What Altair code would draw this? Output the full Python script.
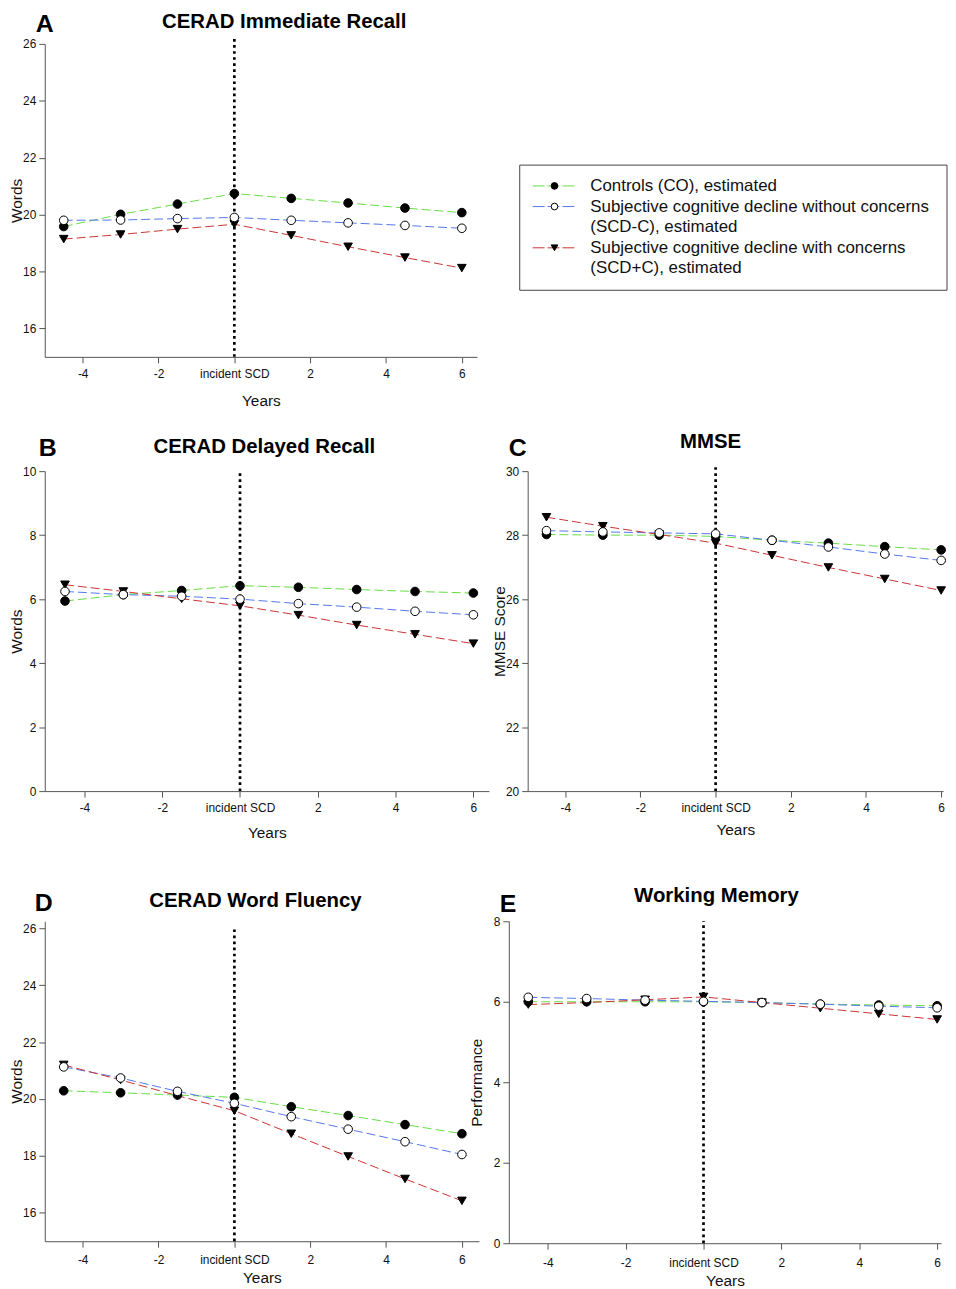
import altair as alt
import pandas as pd

# ---------------- data ----------------
years = [-4.5, -3, -1.5, 0, 1.5, 3, 4.5, 6]
groups = ["CO", "SCD-C", "SCD+C"]
line_colors = ["#66dd44", "#5577ee", "#cc3333"]
marker_shapes = ["circle", "circle", "triangle-down"]
marker_fills = ["black", "white", "black"]
x_tick_values = [-4, -2, 0, 2, 4, 6]

# A: CERAD Immediate Recall
a_co = [19.58, 20.01, 20.37, 20.74, 20.57, 20.41, 20.23, 20.07]
a_scdm = [19.80, 19.81, 19.86, 19.90, 19.80, 19.71, 19.62, 19.52]
a_scdp = [19.14, 19.30, 19.49, 19.66, 19.27, 18.87, 18.49, 18.12]
# B: CERAD Delayed Recall
b_co = [5.94, 6.14, 6.27, 6.42, 6.37, 6.30, 6.24, 6.19]
b_scdm = [6.24, 6.14, 6.09, 6.00, 5.86, 5.75, 5.62, 5.51]
b_scdp = [6.45, 6.24, 6.01, 5.79, 5.50, 5.19, 4.90, 4.61]
# C: MMSE
c_co = [28.02, 28.00, 28.00, 27.96, 27.84, 27.75, 27.64, 27.54]
c_scdm = [28.14, 28.10, 28.07, 28.04, 27.84, 27.63, 27.41, 27.21]
c_scdp = [28.56, 28.28, 28.02, 27.75, 27.37, 26.99, 26.63, 26.27]
# D: CERAD Word Fluency
d_co = [20.29, 20.22, 20.14, 20.06, 19.73, 19.42, 19.10, 18.78]
d_scdm = [21.13, 20.74, 20.27, 19.85, 19.38, 18.94, 18.50, 18.05]
d_scdp = [21.20, 20.67, 20.12, 19.59, 18.78, 17.98, 17.19, 16.42]
# E: Working Memory
e_co = [6.00, 6.00, 6.00, 6.00, 5.98, 5.94, 5.92, 5.90]
e_scdm = [6.11, 6.08, 6.04, 6.01, 5.98, 5.94, 5.89, 5.85]
e_scdp = [5.93, 5.98, 6.05, 6.12, 5.98, 5.84, 5.70, 5.56]

legend_text = [
    "Controls (CO), estimated",
    "Subjective cognitive decline without concerns",
    "(SCD-C), estimated",
    "Subjective cognitive decline with concerns",
    "(SCD+C), estimated",
]
legend_text_rows = [0, 1, 2, 3, 4]
legend_symbol_rows = [0, 1, 3]

FONT = "Liberation Sans"


def panel(letter, title, ytitle, co, scdm, scdp, ydom, yticks, xdom, w, h,
          letter_pos, title_pos, rule_top, ytitle_pad, xlab_pad, xtitle_pad):
    n = len(years)
    df = pd.DataFrame({
        "year": years * 3,
        "value": co + scdm + scdp,
        "group": [g for g in groups for _ in range(n)],
    })
    pts = pd.concat([df[df.group == "CO"], df[df.group == "SCD+C"], df[df.group == "SCD-C"]])
    x = alt.X("year:Q", scale=alt.Scale(domain=xdom, nice=False, zero=False),
              axis=alt.Axis(values=x_tick_values, grid=False, title="Years",
                            labelExpr="datum.value == 0 ? 'incident SCD' : '' + datum.value",
                            labelPadding=xlab_pad, titlePadding=xtitle_pad, labelFlush=False))
    y = alt.Y("value:Q", scale=alt.Scale(domain=ydom, nice=False, zero=False),
              axis=alt.Axis(values=yticks, grid=False, title=ytitle, titlePadding=ytitle_pad))
    color = alt.Color("group:N", scale=alt.Scale(domain=groups, range=line_colors), legend=None)

    rule_df = pd.DataFrame({"year": [0], "value": [ydom[0]], "value2": [rule_top]})
    rule = alt.Chart(rule_df).mark_rule(color="black", strokeWidth=2.7, strokeDash=[2.7, 3.4]).encode(
        x=x, y=y, y2="value2:Q")
    lines = alt.Chart(df).mark_line(strokeWidth=1, strokeDash=[9, 4]).encode(x=x, y=y, color=color)
    points = alt.Chart(pts).mark_point(size=75, stroke="black", strokeWidth=1, opacity=1,
                                       fillOpacity=1, filled=False).encode(
        x=x, y=y,
        shape=alt.Shape("group:N", scale=alt.Scale(domain=groups, range=marker_shapes), legend=None),
        fill=alt.Fill("group:N", scale=alt.Scale(domain=groups, range=marker_fills), legend=None),
    )
    lab = alt.Chart(pd.DataFrame({"t": [letter]})).mark_text(
        font=FONT, fontSize=25, fontWeight="bold", align="left", baseline="middle", color="black"
    ).encode(text="t:N", x=alt.value(letter_pos[0]), y=alt.value(letter_pos[1]))
    ttl = alt.Chart(pd.DataFrame({"t": [title]})).mark_text(
        font=FONT, fontSize=20.5, fontWeight="bold", align="center", baseline="middle", color="black"
    ).encode(text="t:N", x=alt.value(title_pos[0]), y=alt.value(title_pos[1]))
    return alt.layer(rule, lines, points, lab, ttl).properties(width=w, height=h)


A = panel("A", "CERAD Immediate Recall", "Words", a_co, a_scdm, a_scdp,
          [15, 26], [16, 18, 20, 22, 24, 26], [-5, 6.4], 435, 315,
          (-9, -20), (241, -22), 26.28, -2, 6, 13.5)
B = panel("B", "CERAD Delayed Recall", "Words", b_co, b_scdm, b_scdp,
          [0, 10], [0, 2, 4, 6, 8, 10], [-5.02, 6.4], 447, 322,
          (-6, -23), (221, -24), 10, -2, 6, 11.5)
C = panel("C", "MMSE", "MMSE Score", c_co, c_scdm, c_scdp,
          [20, 30], [20, 22, 24, 26, 28, 30], [-5, 6.05], 418, 322,
          (-19, -23), (184, -29), 30.22, -2, 6, 8.5)
D = panel("D", "CERAD Word Fluency", "Words", d_co, d_scdm, d_scdp,
          [15, 26.25], [16, 18, 20, 22, 24, 26], [-5, 6.45], 437, 322,
          (-10, -18), (212, -20), 26.07, -2, 7, 5.5)
E = panel("E", "Working Memory", "Performance", e_co, e_scdm, e_scdp,
          [0, 8], [0, 2, 4, 6, 8], [-5, 6.1], 435, 324,
          (-9, -17), (209, -25), 8.0, 9, 8, 5.5)

# ---------------- custom legend panel ----------------
leg_h = 315
ly = alt.Y("row:Q", scale=alt.Scale(domain=[8.29, -6.89]), axis=None)
box = alt.Chart(pd.DataFrame({"row": [-1.01], "row2": [5.06]})).mark_rect(
    fillOpacity=0, stroke="#444", strokeWidth=1
).encode(x=alt.value(0), x2=alt.value(430), y=ly, y2="row2:Q")
sym_df = pd.DataFrame({"group": groups, "row": legend_symbol_rows})
sym_lines = alt.Chart(sym_df).mark_rule(strokeWidth=1, strokeDash=[12, 3, 12, 3, 12]).encode(
    x=alt.value(13), x2=alt.value(55), y=ly,
    color=alt.Color("group:N", scale=alt.Scale(domain=groups, range=line_colors), legend=None))
sym_pts = alt.Chart(sym_df).mark_point(size=45, stroke="black", strokeWidth=1, opacity=1,
                                       fillOpacity=1, filled=False).encode(
    x=alt.value(35), y=ly,
    shape=alt.Shape("group:N", scale=alt.Scale(domain=groups, range=marker_shapes), legend=None),
    fill=alt.Fill("group:N", scale=alt.Scale(domain=groups, range=marker_fills), legend=None))
txt = alt.Chart(pd.DataFrame({"row": legend_text_rows, "t": legend_text})).mark_text(
    font=FONT, fontSize=17, align="left", baseline="middle", color="#111"
).encode(x=alt.value(71), y=ly, text="t:N")
legend = alt.layer(box, sym_lines, sym_pts, txt).properties(width=430, height=leg_h)

row1 = alt.hconcat(A, legend, spacing=42)
row2 = alt.hconcat(B, C, spacing=3)
row3 = alt.hconcat(D, E, spacing=-10)

chart = alt.vconcat(row1, alt.vconcat(row2, row3, spacing=46), spacing=24).properties(
    padding={"left": 1, "top": 0, "right": 0, "bottom": 0}
).configure(font=FONT).configure_view(stroke=None).configure_axis(
    domainColor="#555", tickColor="#555", labelColor="#111", titleColor="#111",
    labelFont=FONT, titleFont=FONT, labelFontSize=12, titleFontSize=15.5,
    titleFontWeight="normal", tickSize=6, grid=False
).configure_axisY(labelPadding=3)

chart.save("out.html", embed_options={"renderer": "svg", "actions": False})
